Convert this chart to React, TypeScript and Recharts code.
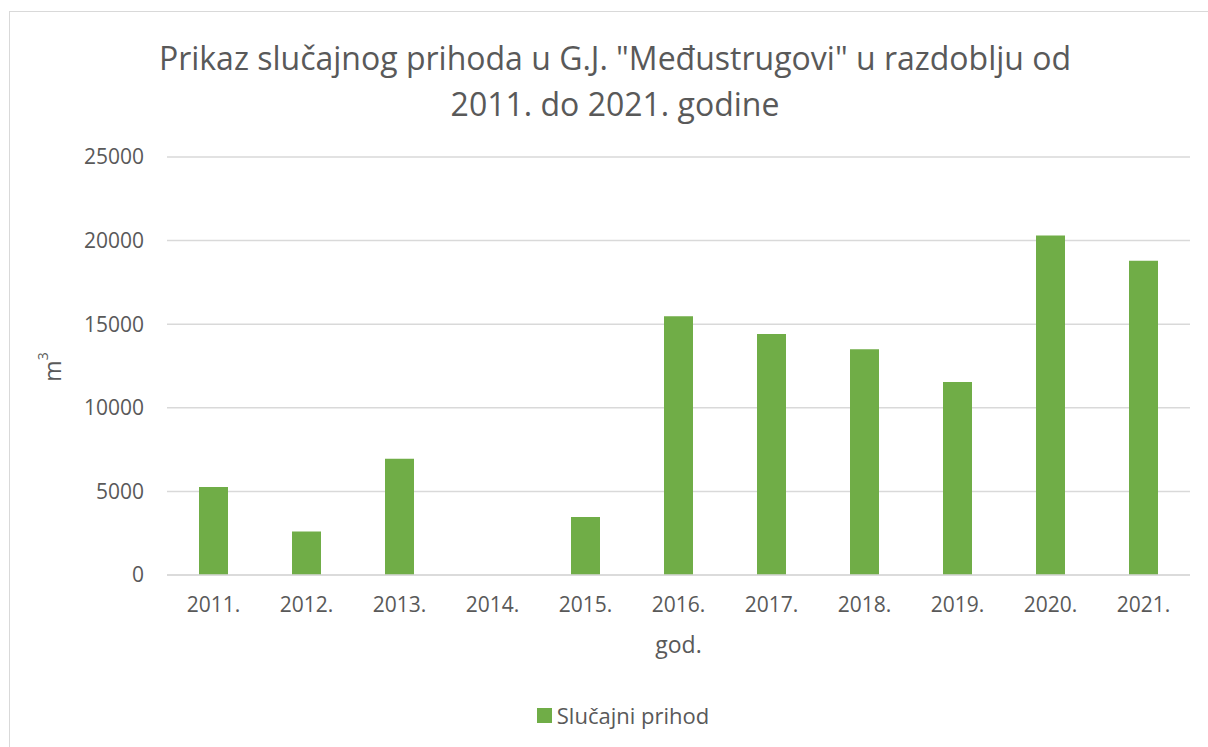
import { BarChart, Bar, XAxis, YAxis, CartesianGrid, Legend } from "recharts";

const years = ["2011.", "2012.", "2013.", "2014.", "2015.", "2016.", "2017.", "2018.", "2019.", "2020.", "2021."];
const prihod = [5260, 2600, 6960, 0, 3470, 15480, 14410, 13500, 11540, 20300, 18800];
const yTicks = [0, 5000, 10000, 15000, 20000, 25000];

const data = years.map((god, i) => ({ god, prihod: prihod[i] }));

const FONT = "'Open Sans', sans-serif";
const TEXT = "#595959";

function LegendBox() {
  return (
    <div style={{ display: "flex", justifyContent: "center", alignItems: "center", fontFamily: FONT, fontSize: 22, color: TEXT }}>
      <span style={{ width: 15, height: 15, background: "#70ad47", display: "inline-block", marginRight: 5 }} />
      <span>Slučajni prihod</span>
    </div>
  );
}

export default function App() {
  return (
    <div style={{ position: "fixed", left: 0, top: 0, width: 1208, height: 747, overflow: "hidden", background: "#fff" }}>
      <div style={{ position: "absolute", left: 9, top: 11, width: 1300, height: 800, border: "1.5px solid #d9d9d9" }} />
      <div
        style={{
          position: "absolute", left: 0, top: 35, width: 1230, textAlign: "center",
          fontFamily: FONT, fontSize: 32, lineHeight: "46px", color: TEXT,
        }}
      >
        Prikaz slučajnog prihoda u G.J. "Međustrugovi" u razdoblju od
        <br />
        2011. do 2021. godine
      </div>
      <BarChart width={1208} height={747} data={data} margin={{ top: 157, right: 18, bottom: 0, left: 0 }}>
        <CartesianGrid vertical={false} stroke="#d9d9d9" strokeWidth={1.5} />
        <XAxis
          dataKey="god"
          height={172}
          tickSize={0}
          tickMargin={22}
          axisLine={{ stroke: "#d9d9d9", strokeWidth: 1.5 }}
          tick={{ fill: TEXT, fontSize: 21, fontFamily: FONT }}
          label={{ value: "god.", position: "insideTop", offset: 62, fill: TEXT, fontSize: 23, fontFamily: FONT }}
        />
        <YAxis
          width={167}
          domain={[0, 25000]}
          ticks={yTicks}
          tickSize={0}
          tickMargin={23}
          axisLine={false}
          tickLine={false}
          tick={{ fill: TEXT, fontSize: 21, fontFamily: FONT }}
          label={{
            content: () => (
              <text transform="rotate(-90, 52, 367)" x={52} y={367} textAnchor="middle" dominantBaseline="central" fill={TEXT} fontFamily={FONT} fontSize={23}>
                m<tspan baselineShift="super" fontSize={14}>3</tspan>
              </text>
            ),
          }}
        />
        <Legend
          layout="horizontal"
          verticalAlign="middle"
          align="center"
          wrapperStyle={{ top: 700, left: 0, width: 1246 }}
          content={() => <LegendBox />}
        />
        <Bar dataKey="prihod" name="Slučajni prihod" fill="#70ad47" barSize={29} isAnimationActive={false} />
      </BarChart>
    </div>
  );
}
